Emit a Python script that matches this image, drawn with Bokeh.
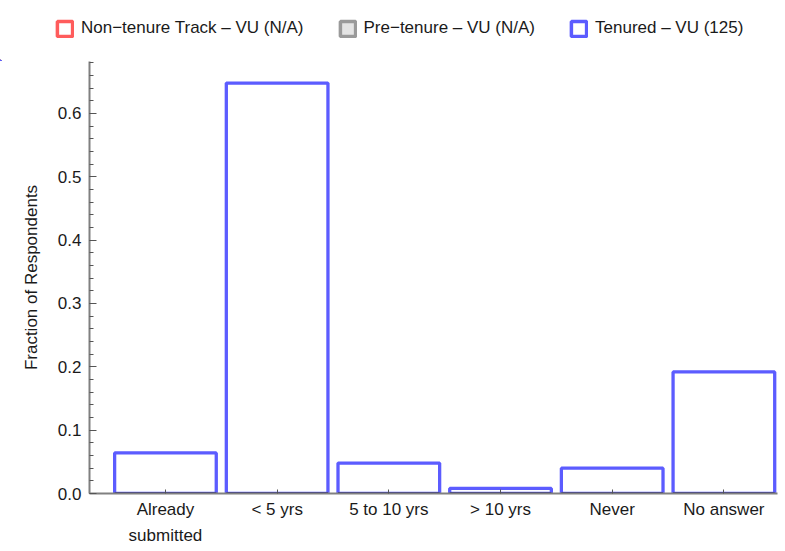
from bokeh.plotting import figure
from bokeh.layouts import column
from bokeh.models import Range1d, FixedTicker, SingleIntervalTicker, Legend, LegendItem, CustomJSTickFormatter
from bokeh.embed import file_html
from bokeh.resources import INLINE

# ---- data ----
categories = ["Already\nsubmitted", "< 5 yrs", "5 to 10 yrs", "> 10 yrs", "Never", "No answer"]
series_names = ["Non\u2212tenure Track \u2013 VU (N/A)", "Pre\u2212tenure \u2013 VU (N/A)", "Tenured \u2013 VU (125)"]
nontenure_vu = [0, 0, 0, 0, 0, 0]
pretenure_vu = [0, 0, 0, 0, 0, 0]
tenured_vu = [0.064, 0.648, 0.048, 0.008, 0.040, 0.192]

FONT = "Liberation Sans"
FS = "17px"
BLUE = "#5c5cff"
RED = "#ff5c5c"
GRAY = "#9a9a9a"
NAVY = "#26248a"
AX = "#808080"

x = list(range(len(categories)))
bw = 0.91

# ---- main chart ----
p = figure(width=785, height=490, output_backend="svg", toolbar_location=None,
           x_range=Range1d(-0.68, len(categories) - 0.52), y_range=Range1d(0, 0.682),
           min_border_left=89, min_border_top=0, min_border_right=8, min_border_bottom=58)
p.frame_align = False
p.grid.visible = False
p.outline_line_color = None

p.vbar(x=x, top=nontenure_vu, width=bw, fill_color="white", line_color=RED, line_width=3)
p.vbar(x=x, top=pretenure_vu, width=bw, fill_color="#e4e4e4", line_color=GRAY, line_width=3)
p.vbar(x=x, top=tenured_vu, width=bw, fill_color="white", line_color=BLUE, line_width=3.3)
# overlapping zero-height bars of the N/A series show as a dark bottom edge
p.segment(x0=[xi - bw / 2 for xi in x], y0=nontenure_vu,
          x1=[xi + bw / 2 for xi in x], y1=pretenure_vu,
          line_color=NAVY, line_width=3)

xa = p.xaxis[0]
xa.ticker = FixedTicker(ticks=x)
xa.major_label_overrides = {i: c for i, c in zip(x, categories)}
ya = p.yaxis[0]
ya.ticker = SingleIntervalTicker(interval=0.1, num_minor_ticks=5)
ya.axis_label = "Fraction of Respondents"
ya.formatter = CustomJSTickFormatter(code="return tick.toFixed(1);")

for ax in (xa, ya):
    ax.axis_line_color = AX
    ax.axis_line_width = 2
    ax.major_tick_line_color = "#555555"
    ax.minor_tick_line_color = "#555555"
    ax.major_tick_out = 0
    ax.minor_tick_out = 0
    ax.major_label_text_font = FONT
    ax.major_label_text_font_size = FS
    ax.major_label_text_color = "#1a1a1a"
    ax.axis_label_text_font = FONT
    ax.axis_label_text_font_size = FS
    ax.axis_label_text_font_style = "normal"
    ax.axis_label_text_color = "#1a1a1a"

ya.major_tick_in = 7
ya.minor_tick_in = 4
ya.major_label_standoff = 8
ya.axis_label_standoff = 14
xa.major_tick_in = 4
xa.minor_tick_in = 0
xa.minor_tick_line_color = None
xa.major_label_standoff = 6
xa.major_label_text_line_height = 1.4

# ---- legend strip above the chart (its own keys sit outside its visible range) ----
lf = figure(width=785, height=61, output_backend="svg", toolbar_location=None,
            x_range=Range1d(1000, 1001), y_range=Range1d(1000, 1001),
            min_border_left=0, min_border_right=0, min_border_top=0, min_border_bottom=0)
lf.frame_align = False
lf.axis.visible = False
lf.grid.visible = False
lf.outline_line_color = None
k_nt = lf.vbar(x=x, top=nontenure_vu, width=bw, fill_color="white", line_color=RED, line_width=3.5)
k_pt = lf.vbar(x=x, top=pretenure_vu, width=bw, fill_color="#e4e4e4", line_color=GRAY, line_width=3.5)
k_t = lf.vbar(x=x, top=tenured_vu, width=bw, fill_color="white", line_color=BLUE, line_width=3.5)

legend = Legend(items=[LegendItem(label=series_names[0], renderers=[k_nt]),
                       LegendItem(label=series_names[1], renderers=[k_pt]),
                       LegendItem(label=series_names[2], renderers=[k_t])],
                orientation="horizontal", location=(55, 23),
                padding=0, margin=0, spacing=34, label_standoff=7,
                glyph_width=19, glyph_height=19,
                label_text_font=FONT, label_text_font_size=FS, label_text_color="#1a1a1a",
                border_line_color=None, background_fill_alpha=0)
lf.add_layout(legend, "center")

layout = column(lf, p, spacing=0)
open("out.html", "w").write(file_html(layout, INLINE))
